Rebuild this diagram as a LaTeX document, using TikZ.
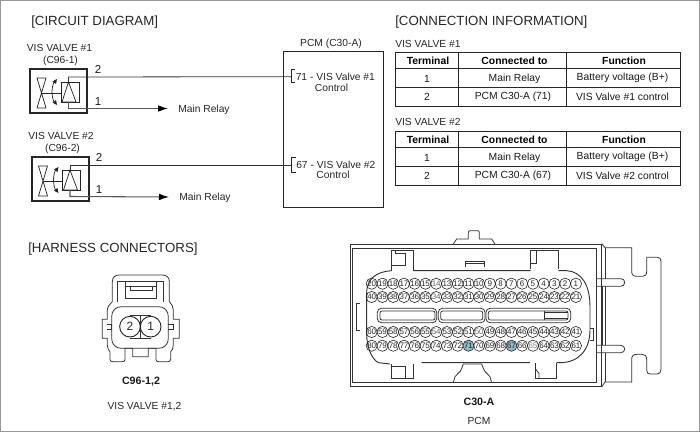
\documentclass[tikz,border=0pt]{standalone}
\usepackage{fontspec}
\setmainfont{Liberation Sans}
\usetikzlibrary{arrows.meta}
\definecolor{pinteal}{HTML}{8DBBC4}
\tikzset{
 x=0.75pt,y=-0.75pt,
 lbl/.style={inner sep=0pt,font=\fontsize{7.7}{8.6}\selectfont,align=center,text=black!85},
 num/.style={inner sep=0pt,font=\fontsize{8.6}{9}\selectfont,text=black!90},
 head/.style={inner sep=0pt,anchor=west,font=\fontsize{9.95}{11}\selectfont,text=black!85},
 wire/.style={line width=0.6pt,draw=black!80},
 wirearr/.style={line width=0.8pt,draw=black!65,-{Latex[length=7.5pt,width=5pt,black]}},
 box/.style={line width=1.5pt,draw=black!85},
 fine/.style={line width=0.55pt,draw=black!85},
 outl/.style={line width=0.6pt,draw=black!80},
 grid/.style={line width=0.7pt,draw=black!85},
 pinc/.style={circle,draw=black!85,line width=0.45pt,inner sep=0pt,minimum size=8.4pt,font=\fontsize{6}{6}\selectfont,text=black!85},
 cell/.style={inner sep=0pt,font=\fontsize{7.75}{8}\selectfont,text=black!90},
 hcell/.style={inner sep=0pt,font=\bfseries\fontsize{7.75}{8}\selectfont,text=black},
 capn/.style={inner sep=0pt,font=\bfseries\fontsize{8}{8.6}\selectfont,text=black!90},
}
\newcommand{\valve}[3]{%
 \begin{scope}[shift={(#1,#2)}]
  \draw[box] (30,69) rectangle (87,113);
  \draw[fine] (37,78)--(46,78)--(37,108)--(46,108)--cycle;
  \draw[fine] (41.5,93)--(61,93);
  \draw[fine] (61,82.5) rectangle (79,102);
  \draw[fine] (68.5,82)--(62,102)--(76,102)--cycle;
  \draw[fine] (55,80) .. controls (51,87) and (51,97) .. (55,104);
  \fill[black!85] (57,79)--(52.5,81.5)--(56,84)--cycle;
  \fill[black!85] (57,105)--(52.5,102.5)--(56,100)--cycle;
  \coordinate (#3top) at (68.5,82);
  \coordinate (#3bot) at (68.5,102);
 \end{scope}}
\newcommand{\tablerows}[5]{% top y, name, pcm text, valve text
 \begin{scope}[shift={(0,#1)}]
  \draw[grid] (395,0) rectangle (680,54.5);
  \draw[grid] (395,16.5)--(680,16.5);
  \draw[grid] (395,35.5)--(680,35.5);
  \draw[grid] (458.5,0)--(458.5,54.5);
  \draw[grid] (566.5,0)--(566.5,54.5);
  \node[hcell] (#2a) at (428,8.5) {Terminal};
  \node[hcell] (#2b) at (514.5,8.5) {Connected to};
  \node[hcell] (#2c) at (624,8.5) {Function};
  \node[cell] (#2d) at (427,26.5) {1};
  \node[cell] (#2e) at (514.5,26.5) {Main Relay};
  \node[cell] (#2f) at (622.5,26) {Battery voltage (B+)};
  \node[cell] (#2g) at (427,45) {2};
  \node[cell] (#2h) at (513,45) {#3};
  \node[cell] (#2i) at (622.5,45) {#4};
 \end{scope}}
\begin{document}
\begin{tikzpicture}
\useasboundingbox (0,0) rectangle (700,432);
\draw[line width=0.8pt,draw=black!40] (0.6,0.6) rectangle (699.4,431.4);
% ---- circuit diagram
\node[head] (h1) at (31,22) {[CIRCUIT DIAGRAM]};
\node[lbl] (v1) at (59.5,48) {VIS VALVE \#1};
\node[lbl] (c1) at (60.5,60.5) {(C96-1)};
\node[lbl] (v2) at (61,136) {VIS VALVE \#2};
\node[lbl] (c2) at (62.5,148.5) {(C96-2)};
\valve{0}{0}{a}
\valve{1.5}{88}{b}
\node[num] (n2a) at (98,69) {2};
\node[num] (n1a) at (98,102) {1};
\node[num] (n2b) at (99,157.5) {2};
\node[num] (n1b) at (99,190) {1};
\node[lbl,anchor=west] (mr1) at (178,110) {Main Relay};
\node[lbl,anchor=west] (mr2) at (179,198) {Main Relay};
\coordinate (r1) at (168,108.5);
\coordinate (r2) at (169,197);
% ---- PCM
\node[lbl] (pcmt) at (331,44) {PCM (C30-A)};
\node[draw=black!85,line width=0.7pt,inner sep=0pt,minimum width=75.5pt,minimum height=116.5pt] (pcm) at (333.5,129.5) {};
\coordinate (p71) at (291,76.7);
\coordinate (p67) at (291.5,165);
\draw[fine] (295,69.5)--(291,69.5)--(291,82)--(295,82);
\draw[fine] (295.5,157.5)--(291.5,157.5)--(291.5,172)--(295.5,172);
\node[lbl,anchor=west] (t71) at (295.5,76.7) {71 - VIS Valve \#1};
\node[lbl] (t71c) at (331.5,87.5) {Control};
\node[lbl,anchor=west] (t67) at (296,164.5) {67 - VIS Valve \#2};
\node[lbl] (t67c) at (333,175) {Control};
\draw[wire] (atop)--(68.5,77)--(p71);
\draw[wire] (btop)--(70,165)--(p67);
\draw[wirearr] (abot)--(68.5,108.5)--(r1);
\draw[wirearr] (bbot)--(70,196.5)--(r2);
% ---- connection information
\node[head] (h2) at (395,22.5) {[CONNECTION INFORMATION]};
\node[lbl,anchor=west] (tv1) at (395,44) {VIS VALVE \#1};
\node[lbl,anchor=west] (tv2) at (395,122) {VIS VALVE \#2};
\tablerows{52}{ta}{PCM C30-A (71)}{VIS Valve \#1 control}{}
\tablerows{131}{tb}{PCM C30-A (67)}{VIS Valve \#2 control}{}
% ---- harness connectors
\node[head] (h3) at (28,249) {[HARNESS CONNECTORS]};
\begin{scope}[shift={(80,260)},x=0.25pt,y=-0.25pt]
 \draw[outl] (97,125)--(97,65) .. controls (97,52) and (105,45) .. (118,45)--(247,45) .. controls (260,45) and (268,52) .. (268,65)--(268,125)
   .. controls (275,132) and (280,140) .. (280,150)--(280,178)--(298,178)--(298,235)--(280,235)--(280,255) .. controls (280,265) and (276,272) .. (272,275)
   --(272,298) .. controls (272,303) and (268,305) .. (264,305)--(236,305) .. controls (231,305) and (228,303) .. (228,298)--(228,265)--(205,265)--(205,290)--(158,290)--(158,265)--(135,265)--(135,298)
   .. controls (135,303) and (132,305) .. (127,305)--(98,305) .. controls (93,305) and (90,303) .. (90,298)--(90,275) .. controls (86,272) and (82,265) .. (82,255)
   --(82,235)--(67,235)--(67,178)--(82,178)--(82,150) .. controls (82,140) and (90,132) .. (97,125);
 \draw[outl] (125,140)--(235,140) .. controls (253,140) and (265,152) .. (265,170)--(265,235) .. controls (265,253) and (253,265) .. (235,265)--(125,265) .. controls (107,265) and (95,253) .. (95,235)--(95,170) .. controls (95,152) and (107,140) .. (125,140);
 \draw[outl] (82,193)--(95,193)--(95,207)--(82,207)  (265,193)--(280,193)--(280,207)--(265,207);
 \draw[outl] (112,125)--(112,65)--(250,65)--(250,125);
 \draw[outl] (135,65)--(135,115)--(230,115)--(230,65);
 \draw[outl] (135,80)--(230,80) (150,80)--(150,92)--(218,92)--(218,80);
 \draw[outl] (150,165)--(212,165) (150,235)--(212,235) (181,165)--(181,235);
 \node[circle,draw=black!85,line width=0.7pt,fill=white,inner sep=0pt,minimum size=15.5pt,font=\fontsize{9}{9}\selectfont,text=black!85] (s2) at (150,200) {2};
 \node[circle,draw=black!85,line width=0.7pt,fill=white,inner sep=0pt,minimum size=15.5pt,font=\fontsize{9}{9}\selectfont,text=black!85] (s1) at (212,200) {1};
\end{scope}
\node[capn] (cs) at (141,382) {C96-1,2};
\node[lbl] (vs) at (144.5,407) {VIS VALVE \#1,2};
% ---- PCM connector body (coordinates are three times the pixels)
\begin{scope}[shift={(340,230)},x=0.25pt,y=-0.25pt]
 \draw[outl] (30,42) rectangle (785,470);
 \draw[outl] (36,55) rectangle (770,458);
 % top tab
 \draw[outl] (340,42)--(350,27)--(385,27)--(385,8) .. controls (385,4) and (387,2) .. (391,2)--(412,2) .. controls (416,2) and (418,4) .. (418,8)--(418,27)--(455,27)--(465,42);
 % cavity outline
 \draw[line width=0.7pt,draw=black!80] (220,122)--(572,122) (655,122)--(680,122) .. controls (725,125) and (750,165) .. (750,230)--(750,300) .. controls (750,355) and (720,398) .. (660,398)--(650,398)
   (570,398)--(245,398) (150,402)--(115,398) .. controls (100,390) and (80,360) .. (80,310)--(80,190) .. controls (80,145) and (110,125) .. (155,122);
 % latches
 \draw[outl] (155,122)--(155,62)--(220,62)--(220,122);
 \draw[outl] (165,62)--(165,70) (155,105)--(195,105)--(195,70)--(165,70);
 \draw[outl] (572,118)--(572,62)--(655,62)--(655,118);
 \draw[outl] (590,62)--(590,100)--(572,100);
 \draw[outl] (155,402)--(155,445)--(220,445)--(220,402);
 \draw[outl] (155,410)--(195,410)--(195,445);
 \draw[outl] (585,400)--(585,445)--(650,445)--(650,400);
 \draw[outl] (585,415)--(597,430)--(597,445);
 % centre marks
 \draw[outl] (375,112)--(375,95)--(432,95)--(432,112) (375,100)--(432,100);
 \draw[outl] (340,458)--(345,440) .. controls (350,430) and (362,428) .. (365,415)--(370,402)--(425,402)--(430,415) .. controls (433,428) and (445,430) .. (450,440)--(455,458);
 % side marks
 \draw[outl] (60,220)--(48,220)--(48,300)--(60,300);
 \draw[outl] (750,295)--(760,295)--(760,330)--(750,330);
 % slots
 \draw[outl,rounded corners=3pt] (112,235) rectangle (290,278);
 \draw[outl,rounded corners=3pt] (295,235) rectangle (435,278);
 \draw[outl,rounded corners=3pt] (438,235) rectangle (692,278);
 \draw[outl,rounded corners=1.5pt] (120,243) rectangle (285,270);
 \draw[outl,rounded corners=1.5pt] (302,243) rectangle (428,270);
 \draw[outl,rounded corners=1.5pt] (445,243) rectangle (684,270);
 \draw[outl] (612,243)--(612,270) (612,248)--(684,248) (612,265)--(684,265);
\end{scope}
% ---- flange
\begin{scope}[shift={(600,232)},x=0.25pt,y=-0.25pt]
 \draw[outl] (5,35)--(15,47)--(95,47)--(95,118) .. controls (95,128) and (100,133) .. (110,133)--(128,133) .. controls (136,133) and (140,128) .. (140,118)--(140,76)--(172,76) .. controls (179,76) and (183,80) .. (183,88)--(183,412) .. controls (183,420) and (179,426) .. (172,426)--(150,426) .. controls (144,426) and (140,422) .. (140,414)--(140,382) .. controls (140,372) and (135,367) .. (126,367)--(110,367) .. controls (100,367) and (95,372) .. (95,382)--(95,450)--(15,450)--(5,465);
 \draw[outl] (15,47)--(15,140) (15,163)--(15,340) (15,362)--(15,450);
 \draw[outl] (3,163)--(3,340) (8,163)--(8,340);
 \draw[outl] (-10,140)--(62,140) .. controls (70,140) and (74,145) .. (74,151) .. controls (74,158) and (70,163) .. (62,163)--(-10,163);
 \draw[outl] (-10,340)--(62,340) .. controls (70,340) and (74,345) .. (74,351) .. controls (74,358) and (70,362) .. (62,362)--(-10,362);
\end{scope}
% ---- PCM pins
\foreach \first/\yy in {20/283.7,40/297,60/332,80/345.7}{
 \foreach \i in {0,...,19}{
  \pgfmathtruncatemacro{\n}{\first-\i}
  \pgfmathsetmacro{\xx}{371.7+\i*10.75}
  \def\pinfill{none}\def\pintext{black!85}
  \ifnum\n=71 \def\pinfill{pinteal}\fi
  \ifnum\n=67 \def\pinfill{pinteal}\fi
  \ifnum\n=14 \def\pintext{black!60}\fi
  \ifnum\n=34 \def\pintext{black!60}\fi
  \ifnum\n=54 \def\pintext{black!60}\fi
  \ifnum\n=50 \def\pintext{black!60}\fi
  \ifnum\n=65 \def\pintext{black!50}\fi
  \node[pinc,fill=\pinfill,text=\pintext] (pin\n) at (\xx,\yy) {\n};
 }}
\node[capn] (cp) at (479,401.5) {C30-A};
\node[lbl] (pp) at (479,421) {PCM};
\end{tikzpicture}
\end{document}
